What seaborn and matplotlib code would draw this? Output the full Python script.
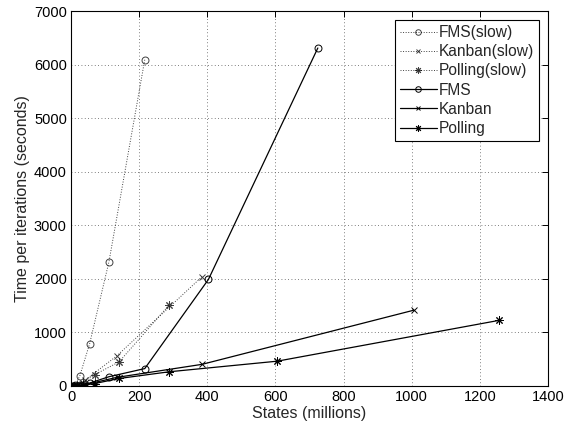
import matplotlib
matplotlib.use("Agg")
import matplotlib.pyplot as plt
import seaborn as sns

# ---- data (states in millions, time per iteration in seconds) ----
fms_slow_x = [4.46, 11.06, 25.4, 54.7, 111.4, 216.4]
fms_slow_y = [3, 15, 180, 790, 2320, 6090]

kanban_slow_x = [2.55, 11.26, 41.6, 133.9, 384.4]
kanban_slow_y = [1, 6, 110, 559, 2040]

polling_slow_x = [8.0, 16.5, 34.0, 69.0, 141.0, 289.0]
polling_slow_y = [2, 10, 60, 210, 450, 1520]

fms_x = [4.46, 11.06, 25.4, 54.7, 111.4, 216.4, 403.3, 724.3]
fms_y = [1, 4, 15, 55, 173, 325, 1990, 6310]

kanban_x = [2.55, 11.26, 41.6, 133.9, 384.4, 1005.9]
kanban_y = [0.5, 2, 25, 160, 404, 1415]

polling_x = [8.0, 16.5, 34.0, 69.0, 141.0, 289.0, 605.0, 1256.0]
polling_y = [1, 3, 12, 45, 140, 266, 463, 1225]

x_ticks = [0, 200, 400, 600, 800, 1000, 1200, 1400]
y_ticks = [0, 1000, 2000, 3000, 4000, 5000, 6000, 7000]

sns.set_style("white")
plt.rcParams['font.family'] = ['Liberation Sans', 'DejaVu Sans']

fig = plt.figure(figsize=(5.68, 4.32), dpi=100)
ax = fig.add_axes([0.125, 0.1065, 0.84, 0.868])

ASTER = (8, 2, 0)

series = [
    (fms_slow_x, fms_slow_y, 'FMS(slow)', 'o', ':'),
    (kanban_slow_x, kanban_slow_y, 'Kanban(slow)', 'x', ':'),
    (polling_slow_x, polling_slow_y, 'Polling(slow)', ASTER, ':'),
    (fms_x, fms_y, 'FMS', 'o', '-'),
    (kanban_x, kanban_y, 'Kanban', 'x', '-'),
    (polling_x, polling_y, 'Polling', ASTER, '-'),
]

for xs, ys, lab, mk, ls in series:
    dotted = ls == ':'
    sns.lineplot(x=xs, y=ys, ax=ax, sort=False, estimator=None,
                 label=lab, color='black', linestyle=ls,
                 linewidth=0.7 if dotted else 0.9,
                 alpha=0.75 if dotted else 1.0,
                 marker=mk, markersize=5 if mk == 'o' else (4 if mk == 'x' else 6),
                 markerfacecolor='none' if mk == 'o' else 'black',
                 markeredgecolor='black', markeredgewidth=0.7)

ax.set_xlim(0, 1400)
ax.set_ylim(0, 7000)
ax.set_xticks(x_ticks)
ax.set_yticks(y_ticks)
ax.tick_params(direction='in', top=True, right=True, length=4,
               width=0.7, labelsize=10.5, colors='black', pad=3)
for s in ax.spines.values():
    s.set_visible(True)
    s.set_color('black')
    s.set_linewidth(0.8)
ax.grid(True, linestyle=(0, (1, 3)), color='#555555', linewidth=0.6)
ax.set_axisbelow(True)

ax.set_xlabel('States (millions)', fontsize=11.5, labelpad=1)
ax.set_ylabel('Time per iterations (seconds)', fontsize=11.5, labelpad=3)

leg = ax.legend(loc='upper right', fontsize=11.2, frameon=True, fancybox=False,
                framealpha=1, edgecolor='black', handlelength=2.4,
                handletextpad=0.12, borderpad=0.3, labelspacing=0.27,
                borderaxespad=0.6, markerscale=0.8)
leg.get_frame().set_linewidth(0.8)

fig.savefig('out.png', dpi=100)
